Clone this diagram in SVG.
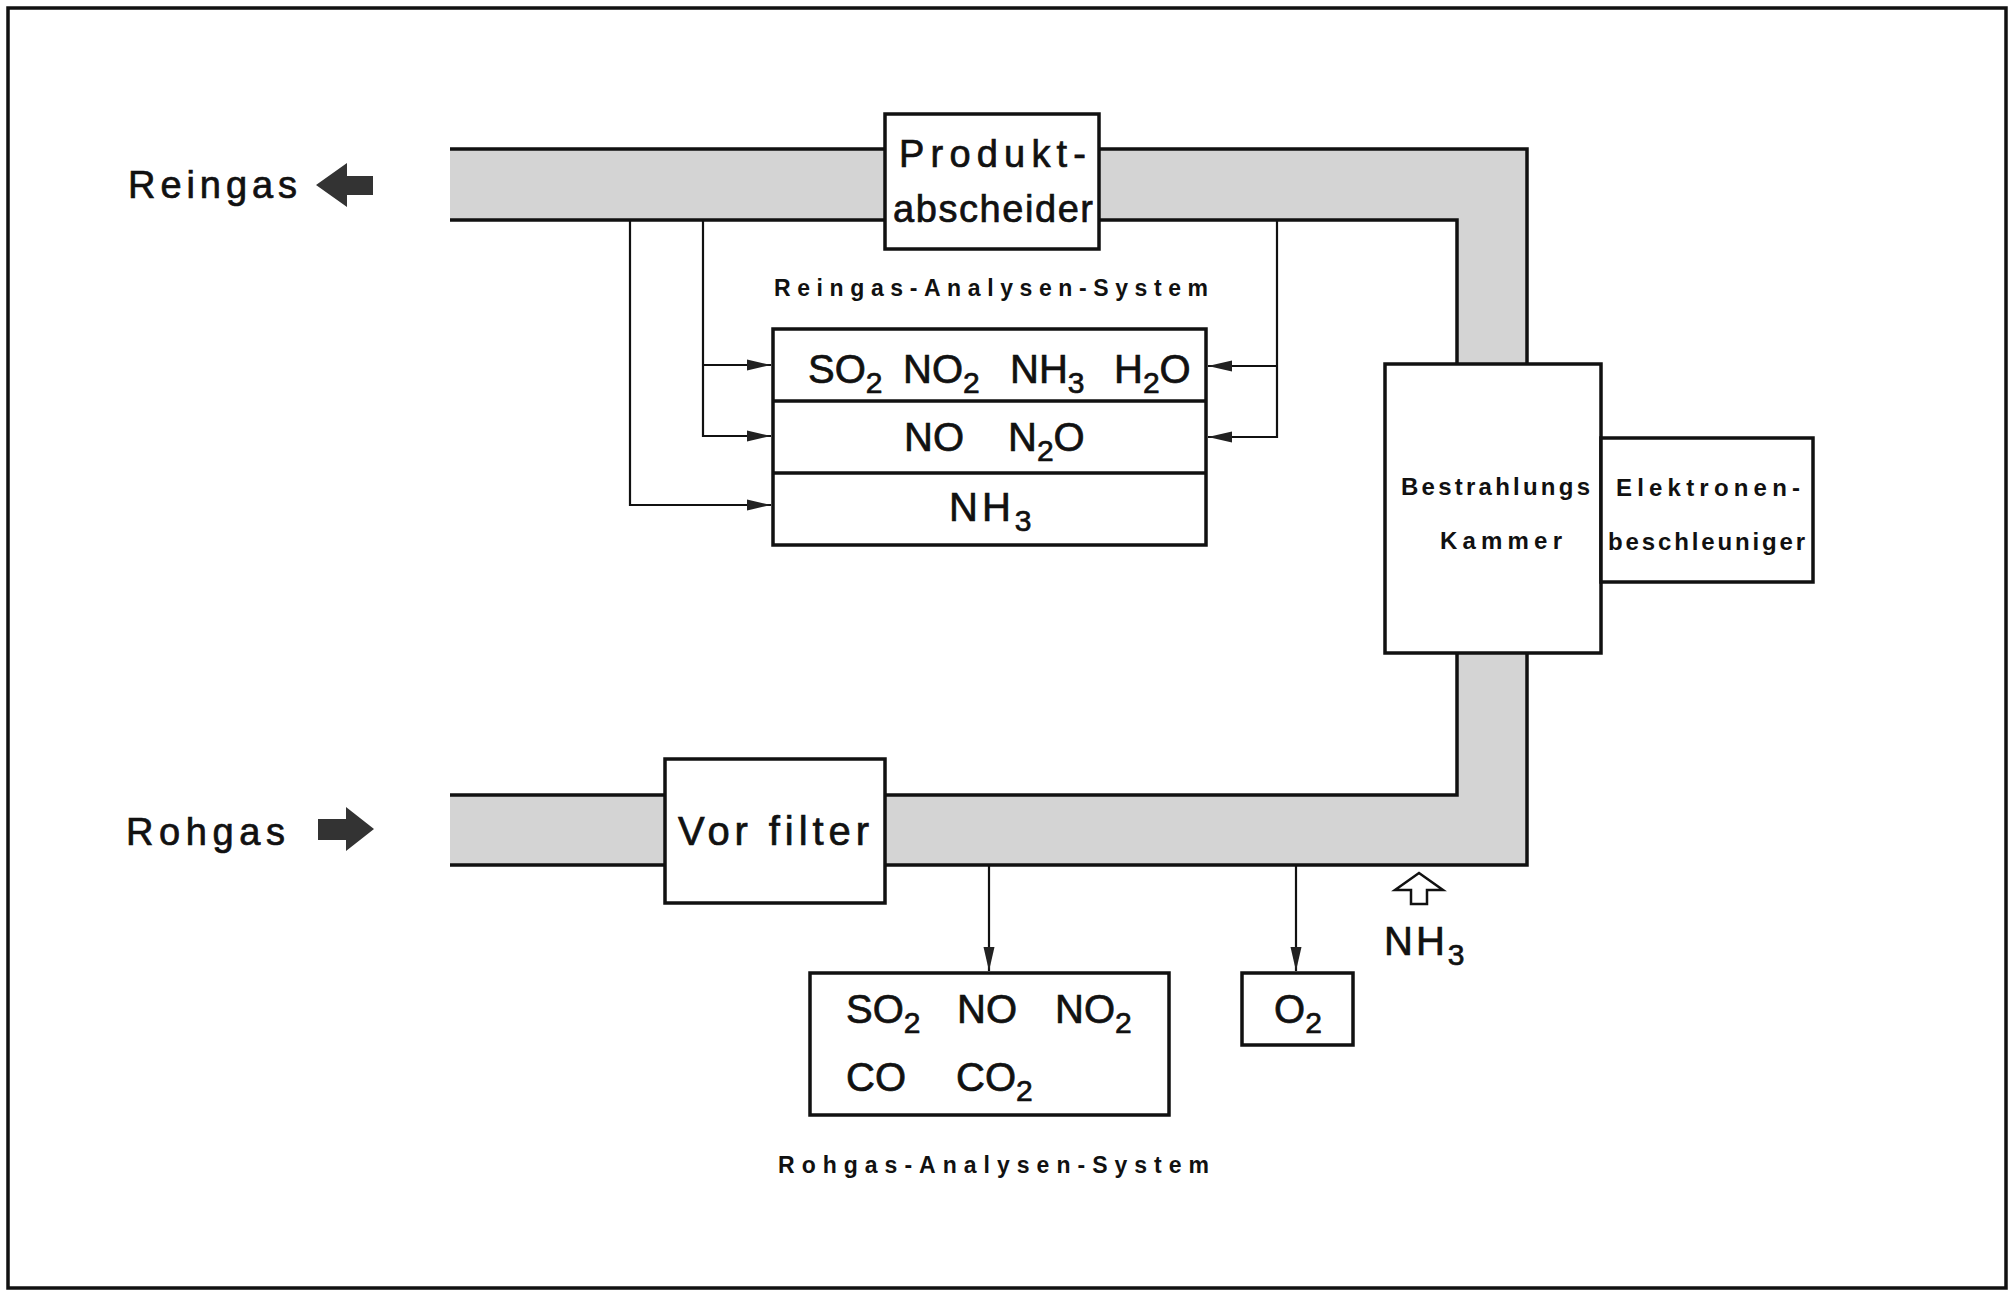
<svg xmlns="http://www.w3.org/2000/svg" width="2016" height="1293" viewBox="0 0 2016 1293">
<defs>
<style>
.box{fill:#fff;stroke:#111;stroke-width:3.5}
.duct{fill:#d4d4d4;stroke:none}
.dl{fill:none;stroke:#111;stroke-width:3.5}
.con{fill:none;stroke:#111;stroke-width:2.2}
.t{font-family:"Liberation Sans",Arial,sans-serif;fill:#111}
.big{font-size:38px;stroke:#111;stroke-width:0.7}
.f{font-size:40px;stroke:#111;stroke-width:0.7}
.sub{font-size:30px}
.lab{font-size:23px;font-weight:bold}
.bk{font-size:24px;font-weight:bold}
</style>
<marker id="ah" markerWidth="26" markerHeight="14" refX="24" refY="7" orient="auto" markerUnits="userSpaceOnUse">
<path d="M0,1.5 L24,7 L0,12.5 Z" fill="#222"/>
</marker>
</defs>
<rect x="8" y="8" width="1998" height="1280" fill="#fff" stroke="#111" stroke-width="3.5"/>

<g id="ducts">
<rect class="duct" x="450" y="149" width="435" height="71"/>
<rect class="duct" x="1099" y="149" width="428" height="71"/>
<rect class="duct" x="1457" y="220" width="70" height="144" fill="#cbcbcb"/>
<rect class="duct" x="450" y="795" width="215" height="70"/>
<polygon class="duct" points="885,795 1457,795 1457,653 1527,653 1527,865 885,865"/>
<path class="dl" d="M450,149 H885 M1099,149 H1527 V364 M450,220 H885 M1099,220 H1457 V364"/>
<path class="dl" d="M450,795 H665 M450,865 H665 M885,795 H1457 V653 M885,865 H1527 V653"/>
</g>

<g id="connectors">
<path class="con" d="M630,220 V505 H771" marker-end="url(#ah)"/>
<path class="con" d="M703,220 V436 H771" marker-end="url(#ah)"/>
<path class="con" d="M703,365 H771" marker-end="url(#ah)"/>
<path class="con" d="M1277,220 V437 H1208" marker-end="url(#ah)"/>
<path class="con" d="M1277,366 H1208" marker-end="url(#ah)"/>
<path class="con" d="M989,865 V971" marker-end="url(#ah)"/>
<path class="con" d="M1296,865 V971" marker-end="url(#ah)"/>
</g>

<g id="reingas">
<text class="t big" x="128" y="198" textLength="169">Reingas</text>
<polygon points="316,185 347,163 347,176 373,176 373,195 347,195 347,207" fill="#333"/>
</g>

<g id="rohgas">
<text class="t big" x="126" y="845" textLength="159">Rohgas</text>
<polygon points="374,829 346,807 346,819 318,819 318,840 346,840 346,851" fill="#333"/>
</g>

<g id="produktabscheider">
<rect class="box" x="885" y="114" width="214" height="135"/>
<text class="t big" x="899" y="167" textLength="187">Produkt-</text>
<text class="t big" x="893" y="222" textLength="200">abscheider</text>
</g>

<g id="reingas-analysen">
<text class="t lab" x="774" y="296" textLength="434">Reingas-Analysen-System</text>
<rect class="box" x="773" y="329" width="433" height="216"/>
<line class="dl" x1="773" y1="401" x2="1206" y2="401"/>
<line class="dl" x1="773" y1="473" x2="1206" y2="473"/>
<text class="t f" x="808" y="383">SO<tspan class="sub" dy="10">2</tspan></text>
<text class="t f" x="903" y="383">NO<tspan class="sub" dy="10">2</tspan></text>
<text class="t f" x="1010" y="383">NH<tspan class="sub" dy="10">3</tspan></text>
<text class="t f" x="1114" y="383">H<tspan class="sub" dy="10">2</tspan><tspan dy="-10">O</tspan></text>
<text class="t f" x="904" y="451">NO</text>
<text class="t f" x="1008" y="451">N<tspan class="sub" dy="10">2</tspan><tspan dy="-10">O</tspan></text>
<text class="t f" x="949" y="521" letter-spacing="4">NH<tspan class="sub" dy="10" letter-spacing="0">3</tspan></text>
</g>

<g id="bestrahlungskammer">
<rect class="box" x="1385" y="364" width="216" height="289"/>
<text class="t bk" x="1401" y="495" textLength="189">Bestrahlungs</text>
<text class="t bk" x="1440" y="549" textLength="122">Kammer</text>
</g>

<g id="elektronenbeschleuniger">
<rect class="box" x="1601" y="438" width="212" height="144"/>
<text class="t bk" x="1616" y="496" textLength="184">Elektronen-</text>
<text class="t bk" x="1608" y="550" textLength="197">beschleuniger</text>
</g>

<g id="vorfilter">
<rect class="box" x="665" y="759" width="220" height="144"/>
<text class="t f" x="678" y="845" textLength="191">Vor filter</text>
</g>

<g id="rohgas-analysen">
<rect class="box" x="810" y="973" width="359" height="142"/>
<text class="t f" x="846" y="1023">SO<tspan class="sub" dy="10">2</tspan></text>
<text class="t f" x="957" y="1023">NO</text>
<text class="t f" x="1055" y="1023">NO<tspan class="sub" dy="10">2</tspan></text>
<text class="t f" x="846" y="1091">CO</text>
<text class="t f" x="956" y="1091">CO<tspan class="sub" dy="10">2</tspan></text>
<text class="t lab" x="778" y="1173" textLength="431">Rohgas-Analysen-System</text>
</g>

<g id="o2">
<rect class="box" x="1242" y="973" width="111" height="72"/>
<text class="t f" x="1274" y="1023">O<tspan class="sub" dy="10">2</tspan></text>
</g>

<g id="nh3-feed">
<polygon points="1419,873 1443,890 1427,890 1427,904 1411,904 1411,890 1395,890" fill="#fff" stroke="#111" stroke-width="2.5"/>
<text class="t f" x="1384" y="955" letter-spacing="3">NH<tspan class="sub" dy="10" letter-spacing="0">3</tspan></text>
</g>
</svg>
